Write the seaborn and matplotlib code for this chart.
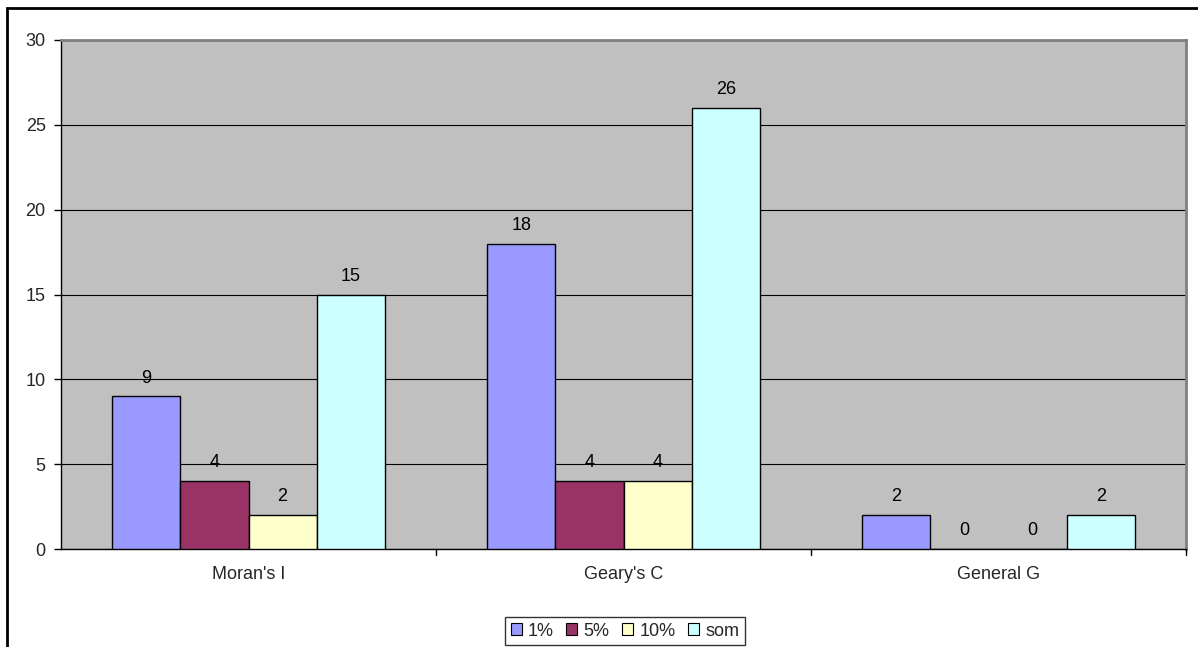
import matplotlib
matplotlib.use("Agg")
import matplotlib.pyplot as plt
from matplotlib.patches import Patch, Rectangle
import seaborn as sns
import pandas as pd

categories = ["Moran's I", "Geary's C", "General G"]
series = ["1%", "5%", "10%", "som"]
vals_1 = [9, 18, 2]
vals_5 = [4, 4, 0]
vals_10 = [2, 4, 0]
vals_som = [15, 26, 2]
y_ticks = [0, 5, 10, 15, 20, 25, 30]

colors = ["#9999FF", "#993366", "#FFFFCC", "#CCFFFF"]

rows = []
for s, vals in zip(series, [vals_1, vals_5, vals_10, vals_som]):
    for c, v in zip(categories, vals):
        rows.append({"cat": c, "series": s, "value": v})
df = pd.DataFrame(rows)

sns.set_theme(style="white")
plt.rcParams["font.family"] = ["Liberation Sans", "DejaVu Sans"]
FS = 13

W, H = 1198, 647
fig = plt.figure(figsize=(W / 100, H / 100), dpi=100)
ax = fig.add_axes([61 / W, 1 - 549 / H, (1186 - 61) / W, (549 - 40) / H])
ax.set_facecolor("#C0C0C0")

sns.barplot(data=df, x="cat", y="value", hue="series", order=categories,
            hue_order=series, palette=colors, width=0.727, saturation=1,
            edgecolor="black", linewidth=1.0, ax=ax, legend=False, zorder=3)

for cont in ax.containers:
    ax.bar_label(cont, labels=[f"{int(b.get_height())}" for b in cont],
                 padding=7, fontsize=FS, color="black")

ax.set_xlim(-0.5, 2.5)
ax.set_ylim(0, 30)
ax.set_yticks(y_ticks)
ax.set_yticklabels([str(t) for t in y_ticks], fontsize=FS)
ax.yaxis.grid(True, color="black", linewidth=0.8, zorder=0)
ax.set_axisbelow(True)

ax.set_xticks([0, 1, 2])
ax.set_xticklabels(categories, fontsize=FS)
ax.tick_params(axis="x", length=0, pad=12)
ax.tick_params(axis="y", length=5, width=1, direction="out", color="black", pad=6, left=True)
# category boundary tick marks under the axis
for xb in [0.5, 1.5, 2.5]:
    ax.plot([xb, xb], [0, -0.35], color="black", lw=1, clip_on=False, zorder=5)

ax.set_xlabel("")
ax.set_ylabel("")
for side in ["left", "bottom"]:
    ax.spines[side].set_color("black")
    ax.spines[side].set_linewidth(1.0)
for side in ["top", "right"]:
    ax.spines[side].set_visible(True)
    ax.spines[side].set_color("#808080")
    ax.spines[side].set_linewidth(2.0)

handles = [Patch(facecolor=c, edgecolor="black", linewidth=0.8) for c in colors]
leg = fig.legend(handles, series, loc="center", bbox_to_anchor=(625 / W, 1 - 631 / H),
                 ncol=4, frameon=True, fontsize=FS, handlelength=0.6, handleheight=0.6,
                 handletextpad=0.35, columnspacing=0.7, borderpad=0.3, fancybox=False)
leg.get_frame().set_edgecolor("black")
leg.get_frame().set_linewidth(1.0)

# outer chart border
fig.add_artist(Rectangle((7 / W, -0.05), 1.1, 1 - 8 / H + 0.05, transform=fig.transFigure,
                         fill=False, edgecolor="black", linewidth=2))

fig.savefig("out.png", dpi=100)
